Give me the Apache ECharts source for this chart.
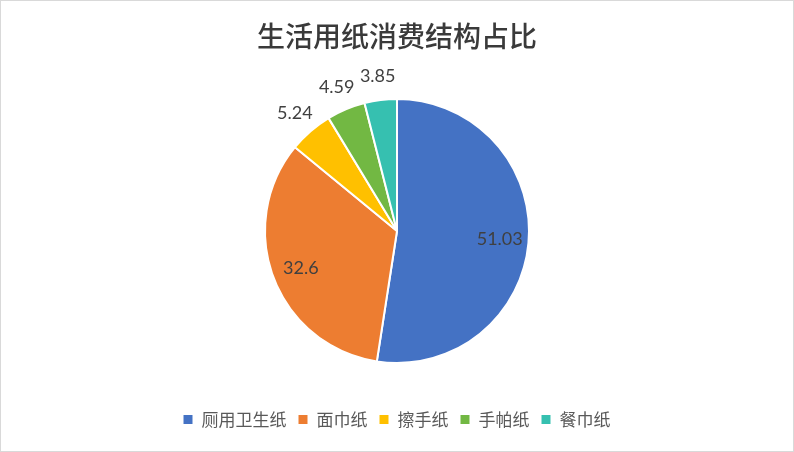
<!DOCTYPE html>
<html>
<head>
<meta charset="utf-8">
<script src="https://cdn.jsdelivr.net/npm/echarts@6/dist/echarts.min.js"></script>
<style>
html,body{margin:0;padding:0;background:#fff;}
#c{width:792px;height:450px;border:1px solid #d9d9d9;}
</style>
</head>
<body>
<div id="c"></div>
<script>
var titleText = '生活用纸消费结构占比';
var categories = ['厕用卫生纸', '面巾纸', '擦手纸', '手帕纸', '餐巾纸'];
var values = [51.03, 32.6, 5.24, 4.59, 3.85];
var colors = ['#4472C4', '#ED7D31', '#FFC000', '#72B843', '#36C0B0'];
var insideLabelCount = 2;

var chart = echarts.init(document.getElementById('c'));
var labelFont = {fontFamily: 'Lato, "Open Sans", sans-serif', fontSize: 18, color: '#404040'};

function buildData(mode) {
  return categories.map(function (name, i) {
    var d = {name: name, value: values[i]};
    if (mode === 'base') {
      d.itemStyle = {color: colors[i]};
    } else {
      var show = mode === 'inner' ? i < insideLabelCount : i >= insideLabelCount;
      d.itemStyle = {color: 'rgba(0,0,0,0)', borderWidth: 0};
      d.label = {show: show};
    }
    return d;
  });
}

chart.setOption({
  animation: false,
  color: colors,
  title: {
    text: titleText,
    left: 'center',
    top: 16,
    textStyle: {fontFamily: '"Noto Sans CJK SC", sans-serif', fontSize: 28, fontWeight: 500, color: '#3a3a3a'}
  },
  legend: {
    bottom: 18,
    left: 'center',
    icon: 'rect',
    itemWidth: 9,
    itemHeight: 9,
    itemGap: 12,
    itemStyle: {borderWidth: 0},
    textStyle: {fontFamily: '"Noto Sans CJK SC", sans-serif', fontSize: 17, color: '#595959', padding: [0, 0, 0, 4]},
    data: categories
  },
  series: [
    {
      type: 'pie',
      center: [396, 230],
      radius: 132,
      startAngle: 90,
      clockwise: true,
      label: {show: false},
      labelLine: {show: false},
      itemStyle: {borderColor: '#fff', borderWidth: 2},
      emphasis: {disabled: true},
      data: buildData('base')
    },
    {
      type: 'pie',
      center: [396, 230],
      radius: [68, 132],
      startAngle: 90,
      silent: true,
      legendHoverLink: false,
      label: Object.assign({position: 'inside', formatter: '{c}'}, labelFont),
      labelLine: {show: false},
      emphasis: {disabled: true},
      data: buildData('inner')
    },
    {
      type: 'pie',
      center: [396, 230],
      radius: [140, 166],
      startAngle: 90,
      silent: true,
      legendHoverLink: false,
      label: Object.assign({position: 'inside', formatter: '{c}'}, labelFont),
      labelLine: {show: false},
      emphasis: {disabled: true},
      data: buildData('outer')
    }
  ]
});
</script>
</body>
</html>
